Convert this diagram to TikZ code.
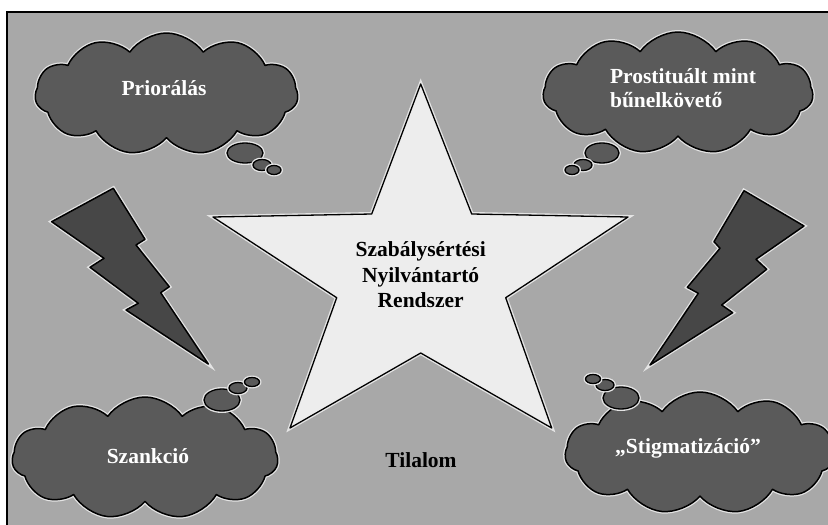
\documentclass[tikz,border=0pt]{standalone}
\usepackage{fontspec}
\setmainfont{Liberation Serif}
\usetikzlibrary{shapes.symbols,shapes.geometric}
\definecolor{bggray}{HTML}{A8A8A8}
\definecolor{cloudgray}{HTML}{5A5A5A}
\definecolor{boltgray}{HTML}{474747}
\definecolor{starfill}{HTML}{EDEDED}
\definecolor{halo}{HTML}{E4E4E4}
\tikzset{
  outlined/.style={draw=black, line width=1.5pt, line join=round,
    preaction={draw=halo, line width=4pt}},
  cloudbox/.style={shape=cloud, cloud puffs=11, cloud puff arc=110,
    fill=cloudgray, outlined, inner sep=0pt, aspect=2.1},
  bubble/.style={ellipse, fill=cloudgray, outlined, inner sep=0pt, line width=1.3pt},
  bolt/.style={fill=boltgray, outlined},
  startxt/.style={font=\bfseries\fontsize{21.5}{25.5}\selectfont, align=center, text=black},
  cloudtxt/.style={font=\bfseries\fontsize{21.5}{24}\selectfont, text=white}
}
\begin{document}
\begin{tikzpicture}[x=1pt,y=-1pt]
\useasboundingbox (0,0) rectangle (828,525);
\fill[white] (0,0) rectangle (828,525);
\draw[fill=bggray, draw=black, line width=1.6pt] (7,12) rectangle (832,530);

% lightning bolts
\draw[bolt] (51.7,221.7) -- (113.3,188.3) -- (145,239.3) -- (136,245) -- (169.3,286.7)
  -- (160.7,292.7) -- (208.3,364) -- (126,310) -- (138.3,303.3) -- (90,267.3) -- (104,258.3) -- cycle;
\draw[bolt] (744,190.7) -- (804,226) -- (756,259.3) -- (766.7,269.3) -- (721.7,305)
  -- (732.7,312.7) -- (650,365) -- (698.3,293.3) -- (687.3,287.3) -- (720,248.3) -- (714,241.7) -- cycle;

% star
\draw[fill=starfill, outlined, line width=1.3pt]
  (420.7,84) -- (471.7,214) -- (628,217) -- (505.7,297.7) -- (551.7,428)
  -- (420.7,353) -- (290,428) -- (336.7,297.7) -- (213,217) -- (371.7,214) -- cycle;
\node[startxt] (star) at (420.7,275) {Szabálysértési\\Nyilvántartó\\Rendszer};
\node[startxt] (tilalom) at (421,460) {Tilalom};

% clouds
\node[cloudbox, minimum width=263pt, minimum height=122pt] (c1) at (166.5,94) {};
\node[cloudtxt] (t1) at (164,88) {Priorálás};
\node[bubble, minimum width=36pt, minimum height=20pt] (b1a) at (245,153) {};
\node[bubble, minimum width=18pt, minimum height=11pt] (b1b) at (262,165) {};
\node[bubble, minimum width=14pt, minimum height=9pt] (b1c) at (274,170) {};

\node[cloudbox, minimum width=270pt, minimum height=122pt] (c2) at (678,93) {};
\node[cloudtxt, align=left] (t2) at (683,88) {Prostituált mint\\bűnelkövető};
\node[bubble, minimum width=34pt, minimum height=20pt] (b2a) at (602,153) {};
\node[bubble, minimum width=18pt, minimum height=11pt] (b2b) at (583,165) {};
\node[bubble, minimum width=14pt, minimum height=9pt] (b2c) at (572,170) {};

\node[cloudbox, minimum width=266pt, minimum height=122pt] (c3) at (145,458) {};
\node[cloudtxt] (t3) at (148,456) {Szankció};
\node[bubble, minimum width=36pt, minimum height=22pt] (b3a) at (222,400) {};
\node[bubble, minimum width=18pt, minimum height=11pt] (b3b) at (238,388) {};
\node[bubble, minimum width=15pt, minimum height=9pt] (b3c) at (252,382) {};

\node[cloudbox, minimum width=270pt, minimum height=122pt] (c4) at (700,453) {};
\node[cloudtxt] (t4) at (688,448) {„Stigmatizáció”};
\node[bubble, minimum width=36pt, minimum height=22pt] (b4a) at (621,398) {};
\node[bubble, minimum width=18pt, minimum height=11pt] (b4b) at (605,385) {};
\node[bubble, minimum width=15pt, minimum height=9pt] (b4c) at (593,379) {};
\end{tikzpicture}
\end{document}
